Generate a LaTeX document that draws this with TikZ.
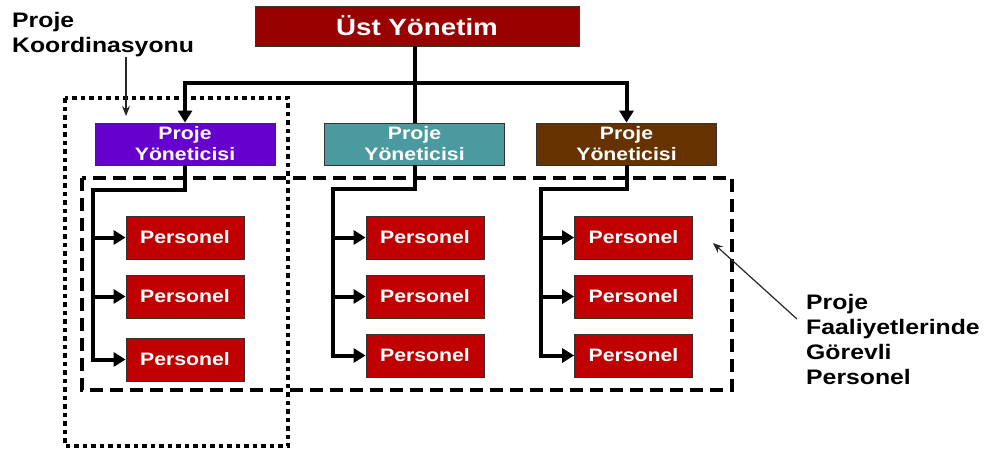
\documentclass[tikz,border=0pt]{standalone}
\usepackage{fontspec}
\usetikzlibrary{arrows.meta}
\newfontfamily\orgfont{Liberation Sans}[FakeStretch=1.18]
\definecolor{topred}{HTML}{990000}
\definecolor{pmpurple}{HTML}{6600CC}
\definecolor{pmteal}{HTML}{4B9AA0}
\definecolor{pmbrown}{HTML}{663300}
\definecolor{staffred}{HTML}{C00000}
\begin{document}
\begin{tikzpicture}[x=1pt,y=-1pt,
  box/.style={draw=black!80,line width=0.8pt,inner sep=0pt,text=white,
    font=\orgfont\bfseries\fontsize{18}{21}\selectfont,align=center},
  topbox/.style={box,fill=topred,minimum width=324pt,minimum height=40pt,
    font=\orgfont\bfseries\fontsize{23.5}{26}\selectfont},
  pmbox/.style={box,minimum width=180pt,minimum height=42pt},
  staff/.style={box,fill=staffred,minimum width=118pt,minimum height=43pt},
  conn/.style={line width=4pt,black},
  tip/.style={-{Triangle[length=12pt,width=14pt]}},
  note/.style={inner sep=0pt,anchor=north west,align=left,
    font=\orgfont\bfseries\fontsize{21}{25}\selectfont},
  pointer/.style={line width=1.2pt,black!85,-{Stealth[length=10pt,width=8pt]}},
  groupline/.style={line width=4pt,dash pattern=on 13pt off 7pt},
  coordline/.style={line width=4.5pt,dash pattern=on 4.5pt off 4pt}
]
\useasboundingbox (0,0) rectangle (991,453);

% top management and project managers
\node[topbox] (top) at (417,26) {Üst Yönetim};
\node[pmbox,fill=pmpurple] (pm1) at (185,144) {Proje\\Yöneticisi};
\node[pmbox,fill=pmteal]   (pm2) at (414.5,144) {Proje\\Yöneticisi};
\node[pmbox,fill=pmbrown]  (pm3) at (626.5,144) {Proje\\Yöneticisi};

% staff columns
\node[staff] (p11) at (185,237.5) {Personel};
\node[staff] (p12) at (185,296.5) {Personel};
\node[staff] (p13) at (185,359.5) {Personel};
\node[staff] (p21) at (425,237.5) {Personel};
\node[staff] (p22) at (425,296.5) {Personel};
\node[staff] (p23) at (425,355.5) {Personel};
\node[staff] (p31) at (633.5,237.5) {Personel};
\node[staff] (p32) at (633.5,296.5) {Personel};
\node[staff] (p33) at (633.5,355.5) {Personel};

% group outlines
\draw[coordline] (65,98) rectangle (288,446);
\draw[groupline] (82,178) rectangle (732,390);

% management connectors
\coordinate (hub) at (414.5,83);
\draw[conn] (pm2.north |- top.south) -- (pm2.north);
\draw[conn,tip] (hub) -| (pm1.north);
\draw[conn,tip] (hub) -| (pm3.north);

% staff connectors
\coordinate (b1) at (93,190);
\coordinate (b2) at (333,189);
\coordinate (b3) at (541,189);
\draw[conn,tip] (pm1.south) |- (b1) |- (p13.west);
\draw[conn,tip] (b1 |- p11.west) -- (p11.west);
\draw[conn,tip] (b1 |- p12.west) -- (p12.west);
\draw[conn,tip] (pm2.south) |- (b2) |- (p23.west);
\draw[conn,tip] (b2 |- p21.west) -- (p21.west);
\draw[conn,tip] (b2 |- p22.west) -- (p22.west);
\draw[conn,tip] (pm3.south) |- (b3) |- (p33.west);
\draw[conn,tip] (b3 |- p31.west) -- (p31.west);
\draw[conn,tip] (b3 |- p32.west) -- (p32.west);

% annotations
\node[note] (coordlabel) at (12,12.5) {Proje\\Koordinasyonu};
\node[note] (stafflabel) at (806,294.5) {Proje\\Faaliyetlerinde\\Görevli\\Personel};
\coordinate (c1s) at (126,57);
\coordinate (c1e) at (126,116);
\draw[pointer] (c1s) -- (c1e);
\coordinate (c2s) at (797,319);
\coordinate (c2e) at (713,243);
\draw[pointer] (c2s) -- (c2e);
\end{tikzpicture}
\end{document}
